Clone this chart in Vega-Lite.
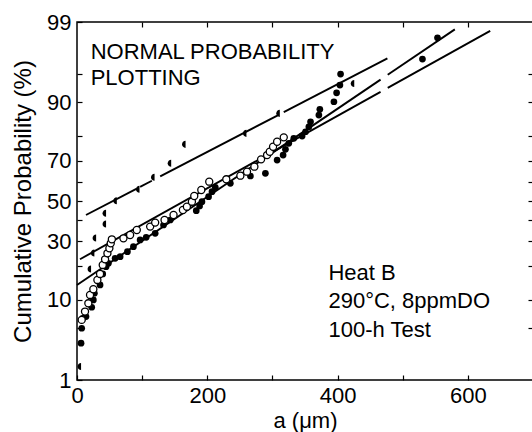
{
  "$schema": "https://vega.github.io/schema/vega-lite/v6.json",
  "width": 456,
  "height": 358,
  "autosize": {"type": "none"},
  "padding": {"left": 77, "top": 22, "right": 0, "bottom": 52},
  "background": "white",
  "config": {
    "font": "Liberation Sans",
    "view": {"stroke": "black", "strokeWidth": 1.5},
    "axis": {"grid": false, "domain": false, "tickColor": "black", "labelColor": "black", "titleColor": "black", "titleFontWeight": "normal"}
  },
  "datasets": {
    "filled": [
      {"x": 6.2, "z": -1.848}, {"x": 7.2, "z": -1.654}, {"x": 8.7, "z": -1.524}, {"x": 13.8, "z": -1.502},
      {"x": 22.6, "z": -1.381}, {"x": 25.1, "z": -1.286}, {"x": 26.7, "z": -1.199}, {"x": 35.4, "z": -1.091},
      {"x": 39.5, "z": -0.948}, {"x": 44.6, "z": -0.853}, {"x": 48.2, "z": -0.81}, {"x": 58.5, "z": -0.745},
      {"x": 66.2, "z": -0.723}, {"x": 77.4, "z": -0.658}, {"x": 86.6, "z": -0.593}, {"x": 96.9, "z": -0.506},
      {"x": 106.2, "z": -0.472}, {"x": 120, "z": -0.42}, {"x": 132.8, "z": -0.312}, {"x": 143.1, "z": -0.247},
      {"x": 183.1, "z": -0.126}, {"x": 188.2, "z": -0.065}, {"x": 191.8, "z": -0.009}, {"x": 202, "z": 0.056},
      {"x": 207.2, "z": 0.121}, {"x": 212.3, "z": 0.178}, {"x": 235.4, "z": 0.23}, {"x": 266.2, "z": 0.325},
      {"x": 289.2, "z": 0.36}, {"x": 307.2, "z": 0.532}, {"x": 316.4, "z": 0.597}, {"x": 320, "z": 0.671},
      {"x": 325.1, "z": 0.749}, {"x": 332.8, "z": 0.814}, {"x": 345.6, "z": 0.844}, {"x": 350.8, "z": 0.9},
      {"x": 355.9, "z": 0.965}, {"x": 358.5, "z": 1.03}, {"x": 371.3, "z": 1.117}, {"x": 372.8, "z": 1.191},
      {"x": 394.4, "z": 1.29}, {"x": 398.5, "z": 1.406}, {"x": 403.6, "z": 1.506}, {"x": 404.6, "z": 1.649},
      {"x": 530.3, "z": 1.844}, {"x": 553.4, "z": 2.121}
    ],
    "open": [
      {"x": 7.2, "z": -1.545}, {"x": 12.3, "z": -1.437}, {"x": 17.4, "z": -1.329}, {"x": 20, "z": -1.221},
      {"x": 25.1, "z": -1.147}, {"x": 31.3, "z": -1.026}, {"x": 35.4, "z": -0.948}, {"x": 39.5, "z": -0.831},
      {"x": 43.1, "z": -0.758}, {"x": 46.7, "z": -0.68}, {"x": 49.7, "z": -0.615}, {"x": 51.8, "z": -0.55},
      {"x": 53.5, "z": -0.498}, {"x": 71.3, "z": -0.485}, {"x": 81.5, "z": -0.442}, {"x": 91.8, "z": -0.377},
      {"x": 112.3, "z": -0.333}, {"x": 120, "z": -0.281}, {"x": 134.4, "z": -0.247}, {"x": 148.2, "z": -0.182},
      {"x": 162.6, "z": -0.117}, {"x": 168.7, "z": -0.074}, {"x": 176.4, "z": -0.009}, {"x": 180, "z": 0.065},
      {"x": 190.8, "z": 0.143}, {"x": 203, "z": 0.251}, {"x": 229.2, "z": 0.282}, {"x": 250.8, "z": 0.329},
      {"x": 261, "z": 0.381}, {"x": 272.3, "z": 0.446}, {"x": 282.6, "z": 0.541}, {"x": 291.8, "z": 0.597},
      {"x": 295.9, "z": 0.64}, {"x": 301, "z": 0.705}, {"x": 307.2, "z": 0.77}, {"x": 317.4, "z": 0.827}
    ],
    "half": [
      {"x": 4.6, "z": -2.15}, {"x": 20, "z": -0.883}, {"x": 25, "z": -0.675}, {"x": 27.7, "z": -0.48},
      {"x": 43, "z": -0.3}, {"x": 43, "z": -0.16}, {"x": 59.5, "z": 0.004}, {"x": 94.3, "z": 0.152},
      {"x": 117.4, "z": 0.308}, {"x": 143, "z": 0.49}, {"x": 165, "z": 0.736}, {"x": 258.5, "z": 0.879},
      {"x": 309.7, "z": 1.139}, {"x": 424, "z": 1.528}
    ],
    "fits": [
      {"seg": "A1", "x": 0, "z": -1.091}, {"seg": "A1", "x": 466, "z": 1.577},
      {"seg": "A2", "x": 477, "z": 1.64}, {"seg": "A2", "x": 580, "z": 2.23},
      {"seg": "B1", "x": 4.6, "z": -0.757}, {"seg": "B1", "x": 466, "z": 1.419},
      {"seg": "B2", "x": 477, "z": 1.471}, {"seg": "B2", "x": 634.3, "z": 2.212},
      {"seg": "C1", "x": 13.8, "z": -0.182}, {"seg": "C1", "x": 91.8, "z": 0.161},
      {"seg": "C2", "x": 96.9, "z": 0.184}, {"seg": "C2", "x": 114.9, "z": 0.263},
      {"seg": "C3", "x": 127.7, "z": 0.319}, {"seg": "C3", "x": 309.7, "z": 1.12},
      {"seg": "C4", "x": 317.4, "z": 1.154}, {"seg": "C4", "x": 476.5, "z": 1.854}
    ],
    "notes": [
      {"block": "title", "tx": 21, "tz": 1.84},
      {"block": "conditions", "tx": 386, "tz": -1.026}
    ]
  },
  "layer": [
    {
      "encoding": {
        "x": {
          "field": "x", "type": "quantitative",
          "scale": {"domain": [0, 700], "nice": false, "zero": false},
          "axis": {
            "title": "a (μm)", "values": [0, 100, 200, 300, 400, 500, 600, 700],
            "labelExpr": "datum.value % 200 == 0 ? datum.label : ''",
            "labelFlush": false, "tickSize": -5, "tickWidth": 1.2,
            "labelFontSize": 22, "labelPadding": 10, "titleFontSize": 22, "titlePadding": 4
          }
        },
        "y": {
          "field": "z", "type": "quantitative",
          "scale": {"domain": [-2.3263, 2.3263], "nice": false, "zero": false},
          "axis": {
            "title": "Cumulative Probability (%)",
            "values": [-2.3263, -1.6449, -1.2816, -0.8416, -0.5244, -0.2533, 0, 0.2533, 0.5244, 0.8416, 1.2816, 1.6449, 2.3263],
            "labelExpr": "indexof([1,10,30,50,70,90,99], round(cumulativeNormal(datum.value)*100)) >= 0 ? '' + round(cumulativeNormal(datum.value)*100) : ''",
            "tickSize": -5, "tickWidth": 1.2,
            "labelFontSize": 22, "labelPadding": 11, "titleFontSize": 24, "titlePadding": 11
          }
        }
      },
      "layer": [
        {
          "data": {"name": "fits"},
          "mark": {"type": "line", "color": "black", "strokeWidth": 1.9},
          "encoding": {"detail": {"field": "seg", "type": "nominal"}}
        },
        {
          "data": {"name": "half"},
          "mark": {"type": "point", "shape": "M 0.3 -1 A 1 1 0 0 0 0.3 1 Z", "filled": true, "color": "black", "opacity": 1, "size": 50}
        },
        {
          "data": {"name": "filled"},
          "mark": {"type": "circle", "color": "black", "opacity": 1, "size": 45}
        },
        {
          "data": {"name": "open"},
          "mark": {"type": "point", "shape": "circle", "filled": false, "fill": "white", "fillOpacity": 1, "stroke": "black", "strokeWidth": 1.3, "opacity": 1, "size": 50}
        }
      ]
    },
    {
      "data": {"name": "notes"},
      "transform": [{"filter": "datum.block == 'title'"}],
      "mark": {"type": "text", "lineHeight": 26, "fontSize": 22, "align": "left", "baseline": "alphabetic", "color": "black"},
      "encoding": {
        "x": {"field": "tx", "type": "quantitative", "scale": {"domain": [0, 700], "nice": false, "zero": false}, "axis": null},
        "y": {"field": "tz", "type": "quantitative", "scale": {"domain": [-2.3263, 2.3263], "nice": false, "zero": false}, "axis": null},
        "text": {"value": ["NORMAL PROBABILITY", "PLOTTING"]}
      }
    },
    {
      "data": {"name": "notes"},
      "transform": [{"filter": "datum.block == 'conditions'"}],
      "mark": {"type": "text", "lineHeight": 28.3, "fontSize": 22, "align": "left", "baseline": "alphabetic", "color": "black"},
      "encoding": {
        "x": {"field": "tx", "type": "quantitative", "scale": {"domain": [0, 700], "nice": false, "zero": false}, "axis": null},
        "y": {"field": "tz", "type": "quantitative", "scale": {"domain": [-2.3263, 2.3263], "nice": false, "zero": false}, "axis": null},
        "text": {"value": ["Heat B", "290°C, 8ppmDO", "100-h Test"]}
      }
    },
    {
      "data": {"name": "half"},
      "mark": {"type": "point", "opacity": 0},
      "encoding": {
        "x": {
          "field": "x", "type": "quantitative",
          "scale": {"domain": [0, 700], "nice": false, "zero": false},
          "axis": {"orient": "top", "values": [100, 200, 300, 400, 500, 600], "labels": false, "title": null, "tickSize": -5, "tickWidth": 1.2}
        },
        "y": {
          "field": "z", "type": "quantitative",
          "scale": {"domain": [-2.3263, 2.3263], "nice": false, "zero": false},
          "axis": {"orient": "right", "values": [-1.6449, -1.2816, -0.8416, -0.5244, -0.2533, 0, 0.2533, 0.5244, 0.8416, 1.2816, 1.6449], "labels": false, "title": null, "tickSize": -5, "tickWidth": 1.2}
        }
      }
    }
  ],
  "resolve": {"axis": {"x": "independent", "y": "independent"}}
}
